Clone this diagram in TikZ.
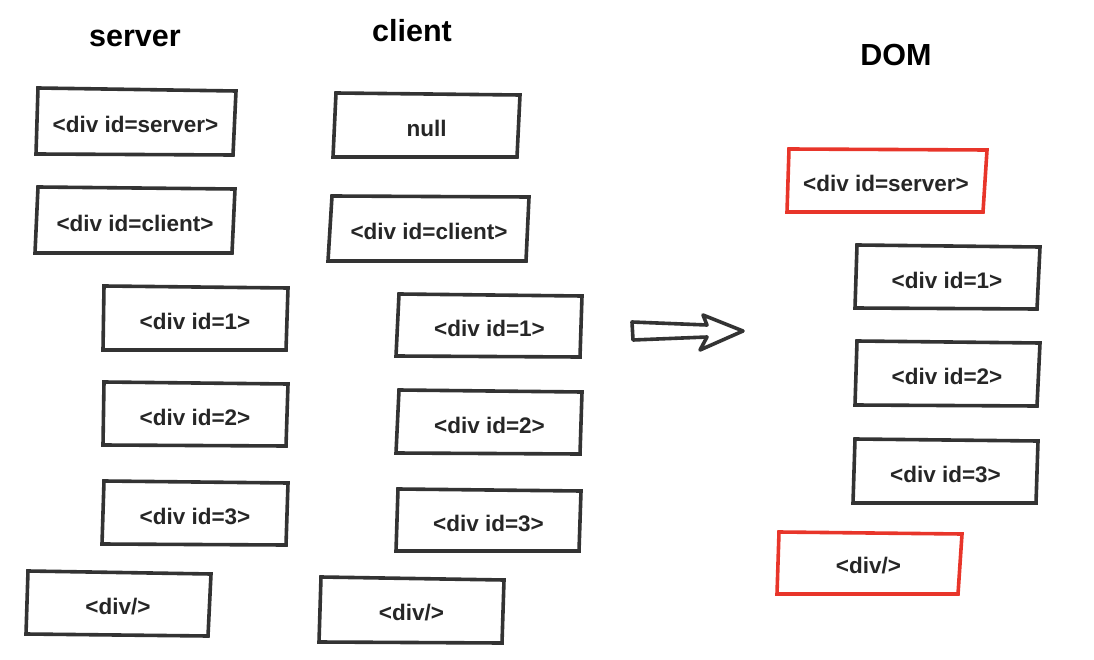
\documentclass[tikz,border=0pt]{standalone}
\usepackage{fontspec}
\setmainfont{Liberation Sans}
\usetikzlibrary{calc}
\definecolor{ink}{HTML}{333333}
\definecolor{txt}{HTML}{262626}
\definecolor{redline}{HTML}{E8352A}
\tikzset{
  boxline/.style={draw=ink, line width=3.6pt, line join=miter},
  redbox/.style={draw=redline, line width=3.6pt, line join=miter},
  boxtext/.style={text=txt, font=\fontsize{22.5}{25}\selectfont\bfseries, inner sep=0pt},
  title/.style={text=black, font=\fontsize{30.5}{34}\selectfont\bfseries, inner sep=0pt},
  bigarrow/.style={draw=ink, line width=3.6pt, line join=round, fill=white}
}
% \qbox{name}{TL}{TR}{BR}{BL}{style}{text}
\newcommand{\qbox}[7]{%
  \coordinate (#1-tl) at #2;
  \coordinate (#1-tr) at #3;
  \coordinate (#1-br) at #4;
  \coordinate (#1-bl) at #5;
  \draw[#6] (#1-tl) -- (#1-tr) -- (#1-br) -- (#1-bl) -- cycle;
  \node[boxtext] (#1) at ($(#1-tl)!0.5!(#1-br)+(0,3)$) {#7};
}
\begin{document}
\begin{tikzpicture}[x=1pt,y=-1pt]
\useasboundingbox (0,0) rectangle (1094,660);
% titles
\node[title] (tserver) at (135,38) {server};
\node[title] (tclient) at (412,31) {client};
\node[title] (tdom) at (896,55) {DOM};
% server column
\qbox{s0}{(38,88)}{(236,91)}{(233,155)}{(36,154)}{boxline}{<div id=server>}
\qbox{s1}{(38,187)}{(235,189)}{(232,253)}{(35,253)}{boxline}{<div id=client>}
\qbox{s2}{(104,286)}{(288,288)}{(286,350)}{(103,350)}{boxline}{<div id=1>}
\qbox{s3}{(104,382)}{(288,384)}{(286,446)}{(103,445)}{boxline}{<div id=2>}
\qbox{s4}{(104,481)}{(288,483)}{(286,545)}{(102,544)}{boxline}{<div id=3>}
\qbox{s5}{(28,571)}{(211,574)}{(208,636)}{(26,634)}{boxline}{<div/>}
% client column
\qbox{c0}{(336,93)}{(520,95)}{(517,157)}{(333,157)}{boxline}{null}
\qbox{c1}{(332,196)}{(529,197)}{(526,261)}{(328,261)}{boxline}{<div id=client>}
\qbox{c2}{(399,294)}{(582,296)}{(580,357)}{(396,356)}{boxline}{<div id=1>}
\qbox{c3}{(399,390)}{(582,392)}{(580,454)}{(396,453)}{boxline}{<div id=2>}
\qbox{c4}{(398,489)}{(581,491)}{(579,551)}{(396,551)}{boxline}{<div id=3>}
\qbox{c5}{(321,577)}{(504,580)}{(502,643)}{(319,642)}{boxline}{<div/>}
% DOM column
\qbox{d0}{(789,149)}{(987,150)}{(983,212)}{(787,212)}{redbox}{<div id=server>}
\qbox{d1}{(857,245)}{(1040,247)}{(1037,309)}{(855,308)}{boxline}{<div id=1>}
\qbox{d2}{(857,341)}{(1040,343)}{(1037,406)}{(855,405)}{boxline}{<div id=2>}
\qbox{d3}{(855,439)}{(1038,441)}{(1036,503)}{(853,503)}{boxline}{<div id=3>}
\qbox{d4}{(779,532)}{(962,534)}{(958,594)}{(777,594)}{redbox}{<div/>}
% big arrow
\coordinate (a1) at (632,322);
\coordinate (a2) at (707,325);
\coordinate (a3) at (703,315);
\coordinate (a4) at (743,331);
\coordinate (a5) at (700,350);
\coordinate (a6) at (707,337);
\coordinate (a7) at (633,340);
\draw[bigarrow] (a1) -- (a2) -- (a3) -- (a4) -- (a5) -- (a6) -- (a7) -- cycle;
\end{tikzpicture}
\end{document}
